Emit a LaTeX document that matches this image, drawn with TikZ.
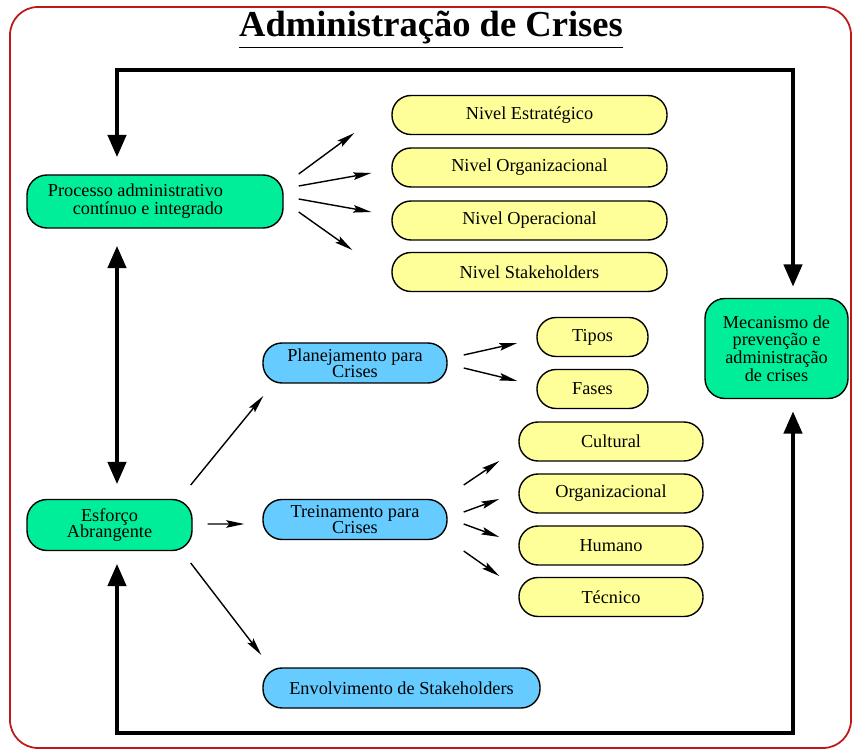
\documentclass[tikz,border=0pt]{standalone}
\usepackage{fontspec}
\setmainfont{Liberation Serif}
\usepackage{xcolor}
\usetikzlibrary{arrows.meta}

\definecolor{boxgreen}{RGB}{0,238,153}
\definecolor{boxblue}{RGB}{102,204,255}
\definecolor{boxyellow}{RGB}{255,255,153}
\definecolor{framered}{RGB}{190,25,25}

\newcommand{\boxfont}{\fontsize{10.4}{9}\selectfont\setlength{\lineskiplimit}{-20pt}}

\begin{document}
\begin{tikzpicture}[
    ->,
    >={Stealth[length=0.36cm,width=0.15cm,inset=0.06cm]},
    line width=0.8pt,
    font=\boxfont
]

\tikzstyle{greenbox}=[
    draw,
    fill=boxgreen,
    rounded corners=0.4cm,
    align=center,
    inner sep=2pt
]
\tikzstyle{bluebox}=[
    draw,
    fill=boxblue,
    rounded corners=0.38cm,
    minimum height=0.8cm,
    align=center,
    inner sep=2pt
]
\tikzstyle{levelbox}=[
    draw,
    fill=boxyellow,
    rounded corners=0.38cm,
    minimum height=0.78cm,
    align=center,
    inner sep=2pt
]
\tikzstyle{loopline}=[
    line width=2.6pt,
    >={Triangle[length=0.45cm,width=0.36cm]}
]

\useasboundingbox (0,0) rectangle (17.06,-15.02);
\draw[-, framered, line width=1pt, rounded corners=0.56cm] (0.20,-0.14) rectangle (17.02,-14.96);

\node[anchor=base, font=\fontsize{20.8}{24}\selectfont\bfseries] (title) at (8.62,-0.74) {\underline{Administração de Crises}};


\node[greenbox, minimum width=5.12cm, minimum height=1.06cm, align=right] (proc) at (3.10,-4.03) {Processo administrativo\hspace*{0.78cm}\\[1.3pt]contínuo e integrado\hspace*{0.78cm}};
\node[greenbox, minimum width=3.30cm, minimum height=1.02cm] (esf) at (2.19,-10.50) {Esforço\\Abrangente};
\node[greenbox, minimum width=2.86cm, minimum height=2.0cm] (mec) at (15.53,-6.97) {Mecanismo de\\[1pt]prevenção e\\[1pt]administração\\[1pt]de crises};

\node[levelbox, minimum width=5.5cm] (nest) at (10.59,-2.30) {Nivel Estratégico};
\node[levelbox, minimum width=5.5cm] (norg) at (10.59,-3.35) {Nivel Organizacional};
\node[levelbox, minimum width=5.5cm] (nope) at (10.59,-4.41) {Nivel Operacional};
\node[levelbox, minimum width=5.5cm] (nstk) at (10.59,-5.44) {Nivel Stakeholders};

\node[bluebox, minimum width=3.68cm] (plan) at (7.10,-7.26) {Planejamento para\\Crises};
\node[bluebox, minimum width=3.68cm] (trein) at (7.10,-10.39) {Treinamento para\\Crises};
\node[bluebox, minimum width=5.54cm] (env) at (8.03,-13.76) {Envolvimento de Stakeholders};

\node[levelbox, minimum width=2.22cm] (tipos) at (11.85,-6.74) {Tipos};
\node[levelbox, minimum width=2.22cm] (fases) at (11.85,-7.78) {Fases};

\node[levelbox, minimum width=3.68cm] (cult) at (12.22,-8.83) {Cultural};
\node[levelbox, minimum width=3.68cm] (orgz) at (12.22,-9.87) {Organizacional};
\node[levelbox, minimum width=3.68cm] (hum) at (12.22,-10.91) {Humano};
\node[levelbox, minimum width=3.68cm] (tec) at (12.22,-11.94) {Técnico};


\coordinate (tl) at (2.34,-1.40);
\coordinate (tr) at (15.86,-1.40);
\coordinate (bl) at (2.34,-14.66);
\coordinate (br) at (15.86,-14.66);

\draw[loopline, <->, shorten <=0.34cm, shorten >=0.22cm] (tl |- proc.north) -- (tl) -- (tr) -- (tr |- mec.north);
\draw[loopline, <->, shorten <=0.25cm, shorten >=0.24cm] (bl |- esf.south) -- (bl) -- (br) -- (br |- mec.south);
\draw[loopline, <->, shorten <=0.34cm, shorten >=0.29cm] (tl |- proc.south) -- (tl |- esf.north);

\draw ([shift={(0.30,0.55)}]proc.east) -- ([shift={(-0.74,-0.36)}]nest.west);
\draw ([shift={(0.30,0.31)}]proc.east) -- ([shift={(-0.40,-0.11)}]norg.west);
\draw ([shift={(0.30,0.05)}]proc.east) -- ([shift={(-0.40,0.17)}]nope.west);
\draw ([shift={(0.30,-0.21)}]proc.east) -- ([shift={(-0.78,0.44)}]nstk.west);

\draw ([shift={(-0.04,0.80)}]esf.east) -- ([shift={(0.02,-0.66)}]plan.west);
\draw ([shift={(0.30,0.02)}]esf.east) -- ([shift={(-0.36,-0.09)}]trein.west);
\draw ([shift={(-0.04,-0.76)}]esf.east) -- ([shift={(-0.02,0.66)}]env.west);

\draw ([shift={(0.32,0.16)}]plan.east) -- ([shift={(-0.38,-0.12)}]tipos.west);
\draw ([shift={(0.32,-0.10)}]plan.east) -- ([shift={(-0.38,0.16)}]fases.west);

\draw ([shift={(0.32,0.69)}]trein.east) -- ([shift={(-0.38,-0.39)}]cult.west);
\draw ([shift={(0.32,0.15)}]trein.east) -- ([shift={(-0.38,-0.11)}]orgz.west);
\draw ([shift={(0.32,-0.09)}]trein.east) -- ([shift={(-0.38,0.17)}]hum.west);
\draw ([shift={(0.32,-0.63)}]trein.east) -- ([shift={(-0.38,0.42)}]tec.west);

\end{tikzpicture}
\end{document}
